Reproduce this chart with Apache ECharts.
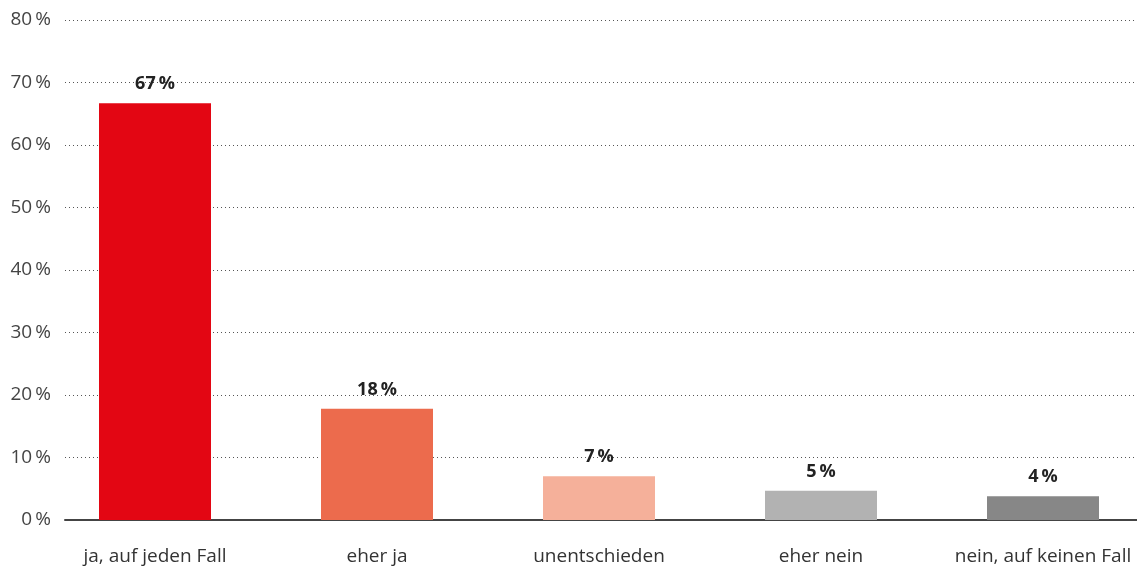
<!DOCTYPE html>
<html>
<head>
<meta charset="utf-8">
<script src="https://cdn.jsdelivr.net/npm/echarts@6/dist/echarts.min.js"></script>
<style>
html, body { margin: 0; padding: 0; background: #fff; }
#chart { width: 1137px; height: 572px; }
</style>
</head>
<body>
<div id="chart"></div>
<script>
// categories and values
const categories = ["ja, auf jeden Fall", "eher ja", "unentschieden", "eher nein", "nein, auf keinen Fall"];
const shares = [66.7, 17.8, 7.0, 4.7, 3.8];
const barColors = ["#e30613", "#ec6b4d", "#f5b09a", "#b2b2b2", "#878787"];
const yTicks = [0, 10, 20, 30, 40, 50, 60, 70, 80];

const fontFamily = "'Open Sans', 'Noto Sans', sans-serif";

const chart = echarts.init(document.getElementById('chart'), null, {renderer: 'canvas'});
const option = {
    animation: false,
    grid: [
        // frame grid: dotted lines, y labels, base line
        {left: 65, right: 0, top: 20, bottom: 52, outerBoundsMode: 'none'},
        // bar grid: categories are spaced wider than the frame
        {left: 44, width: 1110, top: 20, bottom: 52, outerBoundsMode: 'none'}
    ],
    xAxis: [
        {
            gridIndex: 0,
            type: 'category',
            data: [''],
            axisLine: {show: true, lineStyle: {color: '#444', width: 2}},
            axisTick: {show: false},
            axisLabel: {show: false}
        },
        {
            gridIndex: 1,
            type: 'category',
            data: categories,
            axisLine: {show: false},
            axisTick: {show: false},
            axisLabel: {
                interval: 0,
                margin: 27,
                fontSize: 19,
                color: '#333',
                fontFamily: fontFamily
            }
        }
    ],
    yAxis: [
        {
            gridIndex: 0,
            type: 'value',
            min: yTicks[0],
            max: yTicks[yTicks.length - 1],
            interval: 10,
            axisLine: {show: false},
            axisTick: {show: false},
            axisLabel: {
                margin: 14,
                fontSize: 19,
                color: '#444',
                fontFamily: fontFamily,
                formatter: function (v) { return v + '\u2009%'; }
            },
            splitLine: {show: true, lineStyle: {color: '#555', type: [1, 3], width: 1}}
        },
        {
            gridIndex: 1,
            type: 'value',
            min: yTicks[0],
            max: yTicks[yTicks.length - 1],
            interval: 10,
            show: false,
            splitLine: {show: false}
        }
    ],
    series: [
        {
            type: 'bar',
            xAxisIndex: 1,
            yAxisIndex: 1,
            barWidth: 112,
            data: shares.map(function (v, i) {
                return {value: v, itemStyle: {color: barColors[i]}};
            }),
            label: {
                show: true,
                position: 'top',
                distance: 10,
                fontSize: 18,
                fontWeight: 'bold',
                color: '#222',
                fontFamily: fontFamily,
                formatter: function (p) { return Math.round(p.value) + '\u2009%'; }
            }
        }
    ]
};
chart.setOption(option);
</script>
</body>
</html>
